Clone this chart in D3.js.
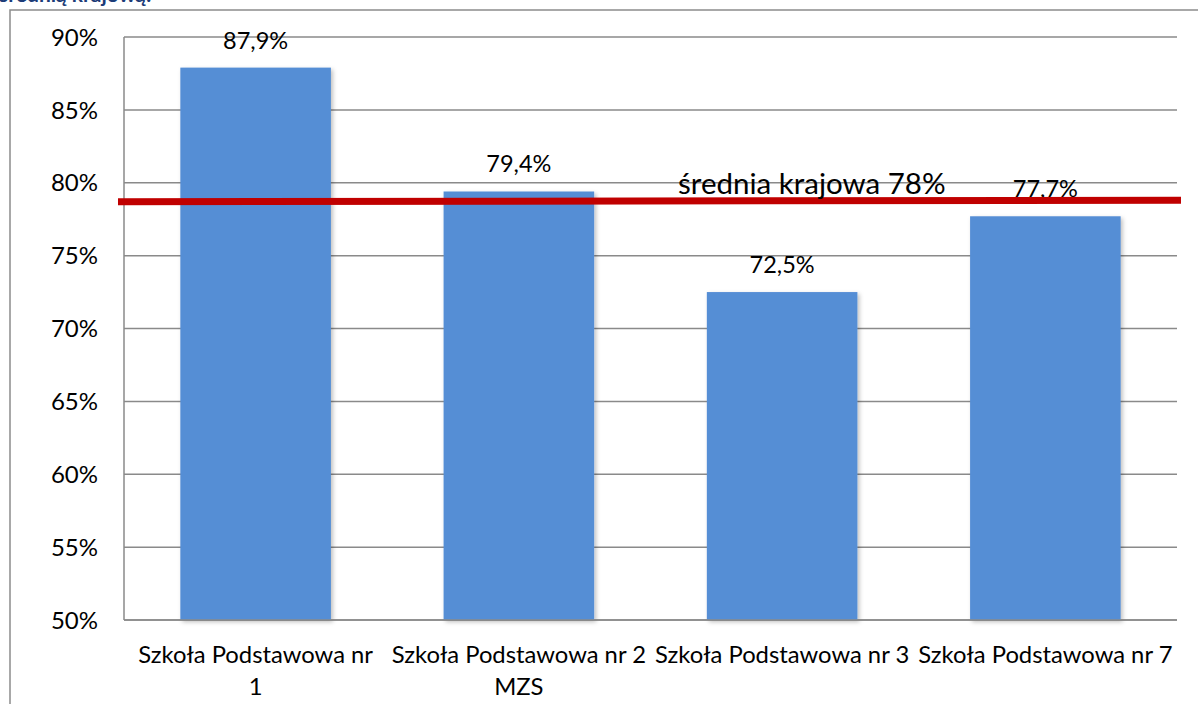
<!DOCTYPE html>
<html>
<head>
<meta charset="utf-8">
<script src="https://cdn.jsdelivr.net/npm/d3@7"></script>
<style>
  body { margin: 0; background: #fff; }
  svg { display: block; font-family: Lato, "Noto Sans", sans-serif; }
</style>
</head>
<body>
<div id="chart"></div>
<script>
// dane
const categories = [
    ["Szkoła Podstawowa nr", "1"],
    ["Szkoła Podstawowa nr 2", "MZS"],
    ["Szkoła Podstawowa nr 3"],
    ["Szkoła Podstawowa nr 7"]
];
const values = [87.9, 79.4, 72.5, 77.7];
const yTicks = [50, 55, 60, 65, 70, 75, 80, 85, 90];
const avgLine = [78.7, 78.8];   // narysowana ręcznie linia średniej (lewy, prawy koniec)
const avgLabel = "średnia krajowa 78%";
const title = "średnią krajową:";

const width = 1198;
const height = 704;
const margin = { top: 37, right: 21, bottom: 84, left: 124 };

const svg = d3.select("#chart")
    .append("svg")
    .attr("width", width)
    .attr("height", height);

const defs = svg.append("defs");
const shadow = defs.append("filter").attr("id", "shadow")
    .attr("x", "-10%").attr("y", "-10%").attr("width", "130%").attr("height", "130%");
shadow.append("feDropShadow")
    .attr("dx", 2).attr("dy", 2).attr("stdDeviation", 2)
    .attr("flood-color", "#000").attr("flood-opacity", 0.25);

// ramka i obcięty tytuł
svg.append("rect")
    .attr("x", 10).attr("y", 10)
    .attr("width", width + 20).attr("height", height + 20)
    .attr("fill", "none")
    .attr("stroke", "#8c8c8c")
    .attr("stroke-width", 1.5);

svg.append("text")
    .attr("x", -1)
    .attr("y", 2)
    .attr("font-size", "21px")
    .attr("font-weight", "bold")
    .attr("fill", "#1c3c78")
    .text(title);

const x = d3.scaleBand()
    .domain(d3.range(categories.length))
    .range([margin.left, width - margin.right])
    .paddingInner(0.428)
    .paddingOuter(0.214);

const y = d3.scaleLinear()
    .domain([50, 90])
    .range([height - margin.bottom, margin.top]);

// siatka
svg.append("g")
    .selectAll("line")
    .data(yTicks)
    .enter()
    .append("line")
    .attr("x1", margin.left)
    .attr("x2", width - margin.right)
    .attr("y1", d => y(d))
    .attr("y2", d => y(d))
    .attr("stroke", "#8a8a8a")
    .attr("stroke-width", 1.5);

svg.append("line")
    .attr("x1", margin.left).attr("x2", margin.left)
    .attr("y1", y(90)).attr("y2", y(50))
    .attr("stroke", "#8a8a8a")
    .attr("stroke-width", 1.5);

svg.append("g")
    .selectAll("text")
    .data(yTicks)
    .enter()
    .append("text")
    .attr("x", 98)
    .attr("y", d => y(d))
    .attr("dy", "0.36em")
    .attr("text-anchor", "end")
    .attr("font-size", "24px")
    .attr("fill", "#000")
    .text(d => d + "%");

// słupki
svg.append("g")
    .selectAll("rect")
    .data(values)
    .enter()
    .append("rect")
    .attr("x", (d, i) => x(i))
    .attr("y", d => y(d))
    .attr("width", x.bandwidth())
    .attr("height", d => y(50) - y(d))
    .attr("fill", "#558ed5")
    .attr("filter", "url(#shadow)");

// oś X ponad słupkami
svg.append("line")
    .attr("x1", margin.left).attr("x2", width - margin.right)
    .attr("y1", y(50)).attr("y2", y(50))
    .attr("stroke", "#8a8a8a")
    .attr("stroke-width", 1.5);

svg.append("g")
    .selectAll("text")
    .data(values)
    .enter()
    .append("text")
    .attr("x", (d, i) => x(i) + x.bandwidth() / 2)
    .attr("y", d => y(d) - 19)
    .attr("text-anchor", "middle")
    .attr("font-size", "23.5px")
    .attr("fill", "#000")
    .text(d => d3.format(".1f")(d).replace(".", ",") + "%");

// etykiety kategorii
const catLabels = svg.append("g")
    .selectAll("text")
    .data(categories)
    .enter()
    .append("text")
    .attr("x", (d, i) => x(i) + x.bandwidth() / 2)
    .attr("y", 663)
    .attr("text-anchor", "middle")
    .attr("font-size", "23.8px")
    .attr("fill", "#000");

catLabels.selectAll("tspan")
    .data(d => d)
    .enter()
    .append("tspan")
    .attr("x", function () { return d3.select(this.parentNode).attr("x"); })
    .attr("dy", (d, i) => i === 0 ? 0 : 32)
    .text(d => d);

// linia średniej krajowej
svg.append("line")
    .attr("x1", 118)
    .attr("x2", 1181)
    .attr("y1", y(avgLine[0]))
    .attr("y2", y(avgLine[1]))
    .attr("stroke", "#c00000")
    .attr("stroke-width", 7);

svg.append("text")
    .attr("x", 678)
    .attr("y", 194)
    .attr("font-size", "29.5px")
    .attr("fill", "#000")
    .text(avgLabel);
</script>
</body>
</html>
